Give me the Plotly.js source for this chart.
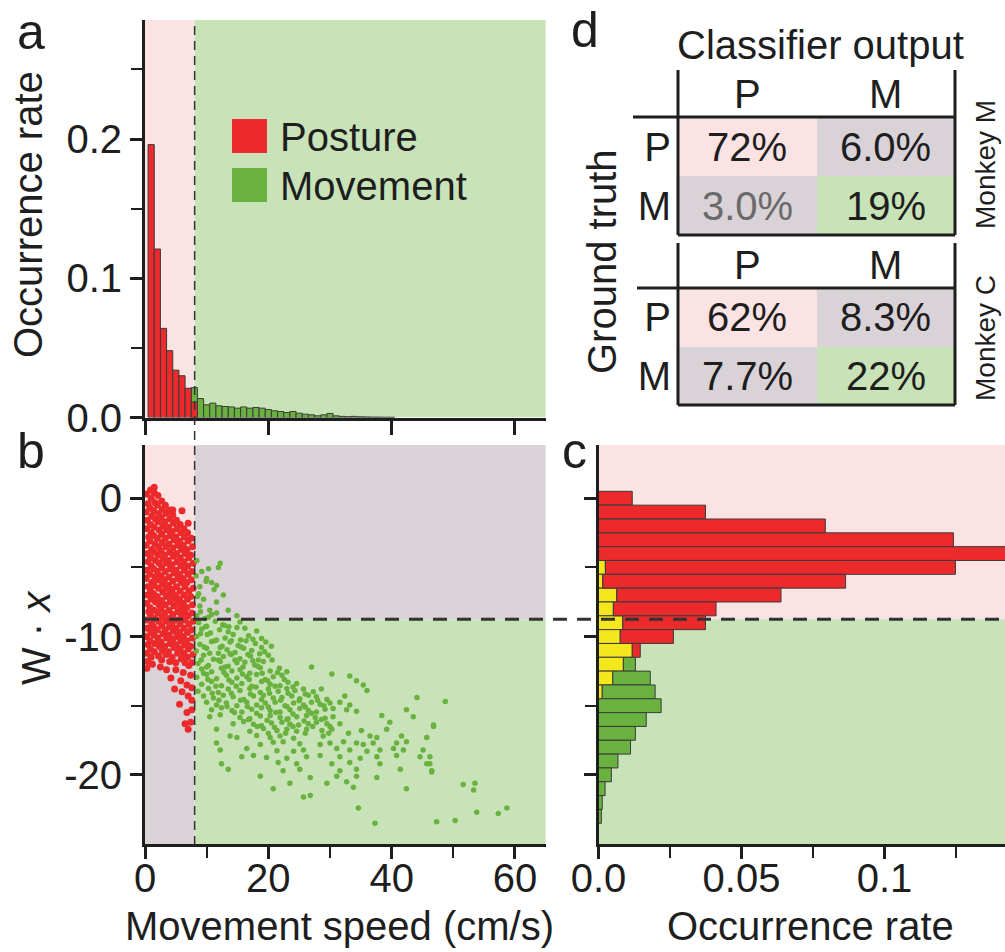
<!DOCTYPE html>
<html>
<head>
<meta charset="utf-8">
<script src="https://cdn.plot.ly/plotly-3.0.1.min.js"></script>
<style>html,body{margin:0;padding:0;background:#fff;}#chart{width:1005px;height:952px;}</style>
</head>
<body>
<div id="chart"></div>
<script>
// ---------------- DATA ----------------
// Panel a: occurrence rate histograms of movement speed (cm/s), bin width 1
const aPostureBins = [1, 2, 3, 4, 5, 6, 7, 8];
const aPostureRate = [0.196, 0.121, 0.064, 0.048, 0.034, 0.030, 0.021, 0.011];
const aMoveBins = [8, 9, 10, 11, 12, 13, 14, 15, 16, 17, 18, 19, 20, 21, 22, 23, 24, 25, 26, 27, 28, 29, 30, 31, 32, 33, 34, 35, 36, 37, 38, 39, 40];
const aMoveRate = [0.0215, 0.0136, 0.0091, 0.0103, 0.0084, 0.0079, 0.0076, 0.0067, 0.0076, 0.0067, 0.0072, 0.0067, 0.0057, 0.0048, 0.0043, 0.0036, 0.0043, 0.0031, 0.0024, 0.0019, 0.0012, 0.0019, 0.0029, 0.0012, 0.0008, 0.0006, 0.0008, 0.0005, 0.0004, 0.0003, 0.0003, 0.0002, 0.0002];

// Panel b: scatter of W·x against movement speed
const postureSpeed = [
 0.3,0.5,0.2,0.4,0.3,0.6,0.2,0.4,0.5,0.3,0.2,0.5,0.4,0.3,0.6,0.2,0.4,0.3,0.5,0.3,0.4,
 0.9,1.0,0.8,1.1,0.9,1.0,0.8,1.1,0.9,1.0,0.8,1.1,0.9,1.0,0.8,0.9,1.1,1.0,0.8,0.9,1.0,
 1.5,1.6,1.4,1.7,1.5,1.4,1.6,1.5,1.7,1.4,1.6,1.5,1.4,1.7,1.5,1.6,1.4,1.5,1.6,1.5,
 2.1,2.0,2.2,2.1,2.3,2.0,2.2,2.1,2.3,2.0,2.1,2.2,2.0,2.3,2.1,2.2,2.0,2.1,2.3,2.2,
 2.7,2.8,2.6,2.9,2.7,2.8,2.6,2.9,2.7,2.6,2.8,2.9,2.7,2.6,2.8,2.7,2.9,2.6,2.8,2.7,
 3.3,3.4,3.2,3.5,3.3,3.4,3.2,3.5,3.3,3.2,3.4,3.5,3.3,3.2,3.4,3.3,3.5,3.2,3.4,
 3.9,4.0,3.8,4.1,3.9,4.0,3.8,4.1,3.9,3.8,4.0,4.1,3.9,3.8,4.0,3.9,4.1,3.8,4.0,
 4.5,4.6,4.4,4.7,4.5,4.6,4.4,4.7,4.5,4.4,4.6,4.7,4.5,4.4,4.6,4.5,4.7,4.4,
 5.1,5.2,5.0,5.3,5.1,5.2,5.0,5.3,5.1,5.0,5.2,5.3,5.1,5.0,5.2,5.1,5.3,5.0,
 5.7,5.8,5.6,5.9,5.7,5.8,5.6,5.9,5.7,5.6,5.8,5.9,5.7,5.6,5.8,5.7,5.9,
 6.3,6.4,6.2,6.5,6.3,6.4,6.2,6.5,6.3,6.2,6.4,6.5,6.3,6.2,6.4,6.3,6.5,
 6.9,7.0,6.8,7.1,6.9,7.0,6.8,7.1,6.9,6.8,7.0,7.1,6.9,6.8,7.0,6.9,7.1,
 7.5,7.7,7.4,7.8,7.6,7.5,7.8,7.4,7.7,7.6,7.8,7.5,7.7,7.4,7.8,7.6,
 4.1,4.5,6.0,1.5,7.0,2.5,3.5,5.0,6.2,7.4,4.2,5.8,6.8,7.6,4.8,6.0,7.0,5.6,7.6,6.8,7.6,6.5,7.4,7.0,0.3,1.2
];
const postureW = [
 0.3,-0.4,-1.0,-1.6,-2.2,-2.8,-3.4,-4.0,-4.6,-5.2,-5.8,-6.4,-7.0,-7.6,-8.2,-8.8,-9.4,-10.0,-10.6,-11.2,-11.8,
 0.6,0.0,-0.7,-1.3,-1.9,-2.5,-3.1,-3.7,-4.3,-4.9,-5.5,-6.1,-6.7,-7.3,-7.9,-8.5,-9.1,-9.7,-10.3,-10.9,-11.5,
 0.4,-0.3,-0.9,-1.5,-2.1,-2.7,-3.3,-3.9,-4.5,-5.1,-5.7,-6.3,-6.9,-7.5,-8.1,-8.7,-9.3,-9.9,-10.5,-11.1,
 0.2,-0.5,-1.1,-1.7,-2.3,-2.9,-3.5,-4.1,-4.7,-5.3,-5.9,-6.5,-7.1,-7.7,-8.3,-8.9,-9.5,-10.1,-10.7,-11.4,
 -0.2,-0.8,-1.4,-2.0,-2.6,-3.2,-3.8,-4.4,-5.0,-5.6,-6.2,-6.8,-7.4,-8.0,-8.6,-9.2,-9.8,-10.4,-11.0,-11.7,
 -0.5,-1.1,-1.7,-2.3,-2.9,-3.5,-4.1,-4.7,-5.3,-5.9,-6.5,-7.1,-7.7,-8.3,-8.9,-9.5,-10.1,-10.7,-11.3,
 -0.9,-1.5,-2.1,-2.7,-3.3,-3.9,-4.5,-5.1,-5.7,-6.3,-6.9,-7.5,-8.1,-8.7,-9.3,-9.9,-10.5,-11.1,-11.8,
 -1.2,-1.8,-2.4,-3.0,-3.6,-4.2,-4.8,-5.4,-6.0,-6.6,-7.2,-7.8,-8.4,-9.0,-9.6,-10.2,-10.8,-11.5,
 -1.6,-2.2,-2.8,-3.4,-4.0,-4.6,-5.2,-5.8,-6.4,-7.0,-7.6,-8.2,-8.8,-9.4,-10.0,-10.6,-11.2,-11.9,
 -1.9,-2.5,-3.1,-3.7,-4.3,-4.9,-5.5,-6.1,-6.7,-7.3,-7.9,-8.5,-9.1,-9.7,-10.3,-10.9,-11.6,
 -2.2,-2.8,-3.4,-4.0,-4.6,-5.2,-5.8,-6.4,-7.0,-7.6,-8.2,-8.8,-9.4,-10.0,-10.6,-11.2,-11.9,
 -2.5,-3.1,-3.7,-4.3,-4.9,-5.5,-6.1,-6.7,-7.3,-7.9,-8.5,-9.1,-9.7,-10.3,-10.9,-11.5,-12.1,
 -2.9,-3.5,-4.1,-4.7,-5.3,-5.9,-6.5,-7.1,-7.7,-8.3,-8.9,-9.5,-10.1,-10.7,-11.3,-11.9,
 -0.85,-0.85,-0.9,0.8,-1.8,-12.2,-12.4,-12.4,-12.6,-12.8,-13.0,-13.2,-13.5,-13.7,-13.8,-14.0,-14.3,-14.9,-14.6,-15.5,-15.3,-16.3,-16.2,-16.7,-12.3,-12.0
];
const moveSpeed = [
 8.4,10.3,11.9,8.9,10.8,9.5,11.6,12.7,8.9,10.3,8.7,10.0,11.6,10.5,11.6,13.5,14.9,8.4,9.7,9.2,9.9,8.5,10.8,9.0,11.2,8.3,12.2,
 8.7,10.0,11.4,12.6,13.6,15.4,
 9.2,10.6,12.1,13.5,14.9,18.1,
 8.4,10.1,11.6,13.0,14.3,15.5,16.8,18.9,
 8.9,10.8,12.5,13.8,15.1,16.4,17.9,20.5,
 8.3,10.0,11.9,13.3,14.6,16.0,17.3,18.6,
 9.5,11.1,12.7,14.0,15.4,17.1,18.4,20.0,
 8.6,10.3,12.2,13.5,14.9,16.2,17.8,19.2,
 9.2,10.8,12.4,14.1,15.4,17.0,18.7,20.3,23.0,27.0,
 8.4,10.0,11.6,13.2,14.9,16.5,18.1,19.5,20.8,22.2,30.3,33.2,
 9.2,10.8,12.4,14.1,15.7,17.3,18.9,20.3,21.9,23.2,24.6,34.3,35.4,
 8.6,10.3,11.9,13.5,15.4,17.0,18.7,20.0,21.6,23.0,24.3,25.7,27.3,28.6,36.0,
 9.5,11.1,12.7,14.3,16.0,17.6,19.2,20.8,22.2,23.8,25.1,26.5,27.8,29.5,32.4,44.1,
 10.0,11.6,13.2,14.9,16.5,18.1,19.5,21.1,22.7,24.1,25.7,27.0,28.4,30.0,31.6,33.2,
 10.8,12.4,14.1,15.7,17.3,18.9,20.3,21.9,23.5,25.1,26.5,27.8,29.2,30.5,32.7,34.3,42.4,
 10.5,12.2,15.4,17.0,18.7,20.3,21.9,23.2,24.6,26.2,27.6,29.2,30.5,38.4,43.5,
 14.3,16.0,17.6,18.9,20.5,22.2,23.5,24.9,26.5,27.8,29.5,31.6,39.7,46.8,
 11.6,17.0,19.2,21.4,23.0,24.6,26.2,28.7,30.3,35.1,39.2,
 13.8,14.9,18.1,20.3,21.9,24.1,28.9,36.5,37.6,41.6,45.7,
 11.6,18.7,20.8,22.4,25.1,28.4,30.0,32.2,34.3,35.4,37.0,40.8,42.4,
 12.2,16.5,21.4,24.1,25.7,31.1,33.2,36.0,38.1,40.3,41.9,45.1,
 15.7,17.6,19.7,23.0,26.2,28.4,31.6,34.9,37.6,40.8,44.6,46.2,
 12.4,21.6,24.6,30.3,33.2,38.1,45.7,
 13.5,22.4,25.1,31.6,34.3,41.4,46.5,
 18.7,26.8,31.1,34.3,37.6,
 23.5,29.5,32.7,
 20.8,33.8,42.4,
 25.7,26.8,
 34.6,
 37.3,47.3,
 46.8,48.7,46.2,46.5,51.6,53.3,53.5,53.8,50.3,57.3,58.7,65.4,
 9.8,12.9,16.2,9.0,11.3,14.0,17.5,19.6,9.6,12.2,15.6,18.9,10.5,13.8,16.7,19.4,9.1,11.9,14.6,17.5,
 20.6,10.0,13.0,15.9,18.3,21.8,9.5,12.8,15.8,19.0,21.5,10.2,13.6,16.9,19.9,22.6,11.5,14.8,18.0,21.1,
 24.0,10.9,14.0,17.1,20.2,23.2,26.0,12.0,15.5,18.9,22.0,25.0,28.0,13.3,16.6,20.0,23.0,26.0,29.0,14.5,
 18.1,21.2,24.0,27.0,16.8,19.8,23.0,25.8,28.6,18.2,21.0,24.0,27.2,30.0,20.0,22.8,26.0,29.8,33.0
];
const moveW = [
 -4.5,-5.1,-5.0,-6.4,-6.1,-7.3,-7.5,-7.0,-7.8,-8.6,-6.9,-5.8,-8.3,-8.1,-6.3,-8.1,-8.5,-8.5,-8.7,-5.3,-6.0,-7.1,-8.4,-8.2,-6.6,-5.6,-4.7,
 -9.0,-9.25,-8.9,-9.15,-9.3,-8.95,
 -9.45,-9.75,-9.5,-9.65,-9.35,-9.6,
 -10.0,-9.85,-10.25,-10.1,-9.85,-10.25,-9.95,-10.15,
 -10.55,-10.35,-10.7,-10.4,-10.65,-10.3,-10.5,-10.7,
 -11.05,-10.85,-11.2,-10.95,-11.15,-10.85,-11.0,-11.25,
 -11.35,-11.65,-11.45,-11.3,-11.6,-11.4,-11.7,-11.35,
 -11.95,-12.1,-11.8,-12.15,-11.9,-11.85,-12.05,-11.8,
 -12.35,-12.55,-12.3,-12.5,-12.4,-12.65,-12.25,-12.5,-12.55,-12.2,
 -12.95,-12.75,-13.05,-12.8,-13.0,-12.9,-12.75,-13.1,-12.9,-12.8,-12.7,-12.85,
 -13.45,-13.25,-13.55,-13.3,-13.4,-13.6,-13.25,-13.45,-13.55,-13.3,-13.4,-13.2,-13.5,
 -13.95,-13.75,-14.05,-13.8,-13.9,-13.75,-14.05,-13.8,-13.95,-13.75,-13.9,-13.8,-14.0,-13.8,-13.9,
 -14.3,-14.45,-14.25,-14.35,-14.55,-14.3,-14.25,-14.45,-14.4,-14.3,-14.5,-14.25,-14.35,-14.55,-14.3,-14.4,
 -14.75,-14.95,-14.8,-15.0,-14.75,-14.95,-14.8,-14.75,-15.0,-14.8,-14.95,-14.75,-14.9,-14.8,-14.75,-14.95,
 -15.3,-15.15,-15.35,-15.45,-15.25,-15.15,-15.35,-15.45,-15.3,-15.2,-15.35,-15.45,-15.25,-15.2,-15.3,-15.4,-15.3,
 -15.8,-15.65,-15.85,-15.95,-15.75,-15.7,-15.85,-15.95,-15.8,-15.7,-15.85,-15.9,-15.8,-15.7,-15.8,
 -16.3,-16.15,-16.35,-16.45,-16.25,-16.2,-16.35,-16.4,-16.3,-16.2,-16.3,-16.3,-16.2,-16.4,
 -16.7,-16.85,-16.65,-16.8,-16.7,-16.85,-16.7,-16.8,-16.7,-16.8,-16.7,
 -17.2,-17.3,-17.15,-17.3,-17.2,-17.35,-17.2,-17.2,-17.3,-17.2,-17.3,
 -17.7,-17.8,-17.65,-17.6,-17.75,-17.8,-17.7,-17.6,-17.7,-17.8,-17.7,-17.7,-17.6,
 -18.2,-18.1,-18.25,-18.3,-18.2,-18.1,-18.2,-18.3,-18.2,-18.1,-18.2,-18.2,
 -18.7,-18.6,-18.75,-18.8,-18.7,-18.6,-18.7,-18.8,-18.7,-18.6,-18.7,-18.7,
 -19.2,-19.1,-19.2,-19.2,-19.1,-19.2,-19.2,
 -19.6,-19.7,-19.6,-19.7,-19.6,-19.6,-19.7,
 -20.1,-20.2,-20.1,-20.1,-20.2,
 -20.6,-20.6,-20.5,
 -21.0,-20.9,-21.0,
 -21.6,-21.5,
 -22.4,
 -23.5,-23.4,
 -16.5,-14.7,-19.2,-19.8,-20.7,-21.1,-20.6,-22.7,-23.3,-22.8,-22.4,-24.1,
 -9.3,-9.2,-9.4,-9.8,-10.3,-10.3,-10.2,-10.4,-10.75,-10.8,-10.75,-10.8,-11.2,-11.25,-11.3,-11.1,-11.7,-11.7,-11.7,-11.75,
 -11.7,-12.2,-12.2,-12.2,-12.15,-12.3,-12.65,-12.6,-12.7,-12.65,-12.6,-13.1,-13.15,-13.1,-13.2,-13.1,-13.6,-13.6,-13.65,-13.6,
 -13.65,-14.1,-14.1,-14.15,-14.1,-14.1,-14.15,-14.6,-14.6,-14.55,-14.6,-14.65,-14.6,-15.05,-15.05,-15.1,-15.05,-15.1,-15.0,-15.5,
 -15.55,-15.5,-15.6,-15.55,-16.0,-16.05,-16.0,-16.1,-16.0,-16.5,-16.55,-16.5,-16.5,-16.5,-17.0,-17.0,-17.0,-17.0,-17.0
];

// Panel c: occurrence rate of W·x (bin width 1)
const cPostureBins = [0, -1, -2, -3, -4, -5, -6, -7, -8, -9, -10, -11];
const cPostureRate = [0.0118, 0.0374, 0.0793, 0.1241, 0.148, 0.1248, 0.0864, 0.0638, 0.0411, 0.0374, 0.0262, 0.0146];
const cMoveBins = [-12, -13, -14, -15, -16, -17, -18, -19, -20, -21, -22, -23];
const cMoveRate = [0.0129, 0.0181, 0.0198, 0.0219, 0.0167, 0.0129, 0.0112, 0.0068, 0.0045, 0.0023, 0.0013, 0.0010];
const cYellowBins = [-5, -6, -7, -8, -9, -10, -11, -12, -13, -14];
const cYellowRate = [0.0024, 0.0015, 0.0064, 0.0052, 0.0085, 0.0076, 0.0118, 0.0087, 0.0050, 0.0013];

// Panel d: confusion matrices (rows: ground truth P/M, cols: classifier output P/M), in %
const classLabels = ['P', 'M'];
const monkeyM = [[72, 6.0], [3.0, 19]];
const monkeyC = [[62, 8.3], [7.7, 22]];

const speedThreshold = 8.05;
const wThreshold = -8.75;

// ---------------- STYLE ----------------
const FONT = 'Liberation Sans, Arial, Helvetica, sans-serif';
const INK = '#1e1e1e';
const RED = '#ec2a2c', GREEN = '#6ab23f', YELLOW = '#f4e81c';
const BG_PINK = '#fbe3e3', BG_GREEN = '#c9e3b9', BG_GREY = '#d9d2d7';
const EDGE = '#3a3a3a';

function yellowAt(b) { const i = cYellowBins.indexOf(b); return i >= 0 ? cYellowRate[i] : 0; }

const traces = [];
// panel a
traces.push({type: 'bar', xaxis: 'x', yaxis: 'y', name: 'Movement', x: aMoveBins, y: aMoveRate, width: 1,
  marker: {color: GREEN, line: {color: EDGE, width: 1}}, hoverinfo: 'skip'});
traces.push({type: 'bar', xaxis: 'x', yaxis: 'y', name: 'Posture', x: aPostureBins, y: aPostureRate, width: 1,
  marker: {color: RED, line: {color: EDGE, width: 1}}, hoverinfo: 'skip'});
// panel b
traces.push({type: 'scatter', mode: 'markers', xaxis: 'x2', yaxis: 'y2', name: 'Posture', x: postureSpeed, y: postureW,
  marker: {color: RED, size: 7, line: {width: 0}}, hoverinfo: 'skip'});
traces.push({type: 'scatter', mode: 'markers', xaxis: 'x2', yaxis: 'y2', name: 'Movement', x: moveSpeed, y: moveW,
  marker: {color: GREEN, size: 5.5, line: {width: 0}}, cliponaxis: false, hoverinfo: 'skip'});
// panel c
traces.push({type: 'bar', orientation: 'h', xaxis: 'x3', yaxis: 'y3', name: 'Other', y: cYellowBins, x: cYellowRate, width: 1,
  marker: {color: YELLOW, line: {color: EDGE, width: 1}}, hoverinfo: 'skip'});
traces.push({type: 'bar', orientation: 'h', xaxis: 'x3', yaxis: 'y3', name: 'Posture', y: cPostureBins,
  base: cPostureBins.map(yellowAt), x: cPostureRate.map((v, i) => v - yellowAt(cPostureBins[i])), width: 1,
  marker: {color: RED, line: {color: EDGE, width: 1}}, hoverinfo: 'skip'});
traces.push({type: 'bar', orientation: 'h', xaxis: 'x3', yaxis: 'y3', name: 'Movement', y: cMoveBins,
  base: cMoveBins.map(yellowAt), x: cMoveRate.map((v, i) => v - yellowAt(cMoveBins[i])), width: 1,
  marker: {color: GREEN, line: {color: EDGE, width: 1}}, hoverinfo: 'skip'});
// panel d heatmaps
function cellClass(i, j) { return i === j ? (i === 0 ? 0 : 2) : 1; }
const zCells = classLabels.map((r, i) => classLabels.map((c, j) => cellClass(i, j)));
const cellScale = [[0, BG_PINK], [0.5, BG_GREY], [1, BG_GREEN]];
traces.push({type: 'heatmap', xaxis: 'x4', yaxis: 'y4', z: zCells, x: [0, 1], y: [0, 1], zmin: 0, zmax: 2,
  colorscale: cellScale, showscale: false, hoverinfo: 'skip', xgap: 0, ygap: 0});
traces.push({type: 'heatmap', xaxis: 'x5', yaxis: 'y5', z: zCells, x: [0, 1], y: [0, 1], zmin: 0, zmax: 2,
  colorscale: cellScale, showscale: false, hoverinfo: 'skip', xgap: 0, ygap: 0});

// ---------------- LAYOUT ----------------
const W = 1005, H = 952;
const px = v => v / W, py = v => 1 - v / H;

const baseAxis = {showline: true, linewidth: 3, linecolor: INK, ticks: 'outside', ticklen: 12, tickwidth: 3,
  tickcolor: INK, showgrid: false, zeroline: false, tickmode: 'array', fixedrange: true,
  tickfont: {family: FONT, size: 40, color: INK}};
const minor = vals => ({tickmode: 'array', tickvals: vals, ticks: 'outside', ticklen: 11, tickwidth: 2, tickcolor: INK, showgrid: false});

const xDomAB = [px(145), px(545.8)];
const yDomA = [py(417.5), py(20)];
const yDomB = [py(844), py(445)];
const xDomC = [px(598.5), 1];

const tableAxisX = {showline: false, showgrid: false, zeroline: false, ticks: '', range: [-0.5, 1.5], tickmode: 'array',
  tickvals: [0, 1], ticktext: classLabels, side: 'top', fixedrange: true, tickfont: {family: FONT, size: 40, color: INK}};
const tableAxisY = {showline: false, showgrid: false, zeroline: false, ticks: '', range: [1.5, -0.5], tickmode: 'array',
  tickvals: [0, 1], ticktext: classLabels, fixedrange: true, tickfont: {family: FONT, size: 40, color: INK}, ticklabelstandoff: 6};

const layout = {
  width: W, height: H, margin: {l: 0, r: 0, t: 0, b: 0},
  paper_bgcolor: '#ffffff', plot_bgcolor: 'rgba(0,0,0,0)', showlegend: false,
  barmode: 'overlay', bargap: 0,
  font: {family: FONT, size: 40, color: INK},
  xaxis: Object.assign({}, baseAxis, {domain: xDomAB, range: [0, 65], anchor: 'y', tickvals: [0, 20, 40, 60],
    showticklabels: false, ticklen: 14}),
  yaxis: Object.assign({}, baseAxis, {domain: yDomA, range: [0, 0.2855], anchor: 'x', tickvals: [0, 0.1, 0.2],
    ticktext: ['0.0', '0.1', '0.2'], minor: minor([0.05, 0.15, 0.25])}),
  xaxis2: Object.assign({}, baseAxis, {domain: xDomAB, range: [0, 65], anchor: 'y2', tickvals: [0, 20, 40, 60],
    ticktext: ['0', '20', '40', '60'], minor: minor([10, 30, 50]), ticklabelstandoff: -15}),
  yaxis2: Object.assign({}, baseAxis, {domain: yDomB, range: [-25, 3.85], anchor: 'x2', tickvals: [-20, -10, 0],
    ticktext: ['-20', '-10', '0'], minor: minor([-15, -5])}),
  xaxis3: Object.assign({}, baseAxis, {domain: xDomC, range: [0, 0.14213], anchor: 'y3', tickvals: [0, 0.05, 0.1],
    ticktext: ['0.0', '0.05', '0.1'], minor: minor([0.025, 0.075, 0.125]), ticklabelstandoff: -15}),
  yaxis3: Object.assign({}, baseAxis, {domain: yDomB, range: [-25, 3.85], anchor: 'x3', tickvals: [-20, -10, 0],
    showticklabels: false, minor: minor([-15, -5])}),
  xaxis4: Object.assign({}, tableAxisX, {domain: [px(678), px(955)], anchor: 'y4'}),
  yaxis4: Object.assign({}, tableAxisY, {domain: [py(235), py(117)], anchor: 'x4'}),
  xaxis5: Object.assign({}, tableAxisX, {domain: [px(678), px(955)], anchor: 'y5'}),
  yaxis5: Object.assign({}, tableAxisY, {domain: [py(405), py(288)], anchor: 'x5'}),
  shapes: [], annotations: []
};

const S = layout.shapes, A = layout.annotations;
function rect(xref, yref, x0, x1, y0, y1, color) {
  S.push({type: 'rect', xref, yref, x0, x1, y0, y1, fillcolor: color, line: {width: 0}, layer: 'below'});
}
// panel a background
rect('x', 'y', 0, speedThreshold, 0, 0.2855, BG_PINK);
rect('x', 'y', speedThreshold, 65, 0, 0.2855, BG_GREEN);
// panel b background
rect('x2', 'y2', 0, speedThreshold, wThreshold, 3.85, BG_PINK);
rect('x2', 'y2', speedThreshold, 65, wThreshold, 3.85, BG_GREY);
rect('x2', 'y2', 0, speedThreshold, -25, wThreshold, BG_GREY);
rect('x2', 'y2', speedThreshold, 65, -25, wThreshold, BG_GREEN);
// panel c background
rect('x3', 'y3', 0, 0.14213, wThreshold, 3.85, BG_PINK);
rect('x3', 'y3', 0, 0.14213, -25, wThreshold, BG_GREEN);
// threshold lines
S.push({type: 'line', xref: 'x', yref: 'paper', x0: speedThreshold, x1: speedThreshold, y0: py(845), y1: py(20),
  line: {color: '#333', width: 1.5, dash: '9px,6px'}, layer: 'above'});
S.push({type: 'line', xref: 'paper', yref: 'y2', x0: px(145), x1: 1, y0: wThreshold, y1: wThreshold,
  line: {color: '#333', width: 3, dash: '14px,10px'}, layer: 'above'});
// table borders
function hline(x0, x1, y) { S.push({type: 'line', xref: 'paper', yref: 'paper', x0: px(x0), x1: px(x1), y0: py(y), y1: py(y), line: {color: INK, width: 3}}); }
function vline(x, y0, y1) { S.push({type: 'line', xref: 'paper', yref: 'paper', x0: px(x), x1: px(x), y0: py(y0), y1: py(y1), line: {color: INK, width: 3}}); }
vline(678, 70, 235); vline(955, 70, 235); hline(633, 955, 117); hline(678, 955, 235);
vline(678, 243, 405); vline(955, 243, 405); hline(637, 955, 288); hline(678, 955, 405);

// legend swatches (panel a)
S.push({type: 'rect', xref: 'paper', yref: 'paper', x0: px(232), x1: px(267), y0: py(153), y1: py(119), fillcolor: RED, line: {width: 0}});
S.push({type: 'rect', xref: 'paper', yref: 'paper', x0: px(232), x1: px(267), y0: py(202), y1: py(168), fillcolor: GREEN, line: {width: 0}});

function note(text, x, y, opts) {
  A.push(Object.assign({text, x: px(x), y: py(y), xref: 'paper', yref: 'paper', showarrow: false,
    xanchor: 'center', yanchor: 'middle', font: {family: FONT, size: 40, color: INK}}, opts || {}));
}
note('Posture', 278, 137, {xanchor: 'left'});
note('Movement', 278, 186, {xanchor: 'left'});
// axis titles
note('Occurrence rate', 28, 215, {textangle: -90});
note('W · <i>x</i>', 36, 638, {textangle: -90});
note('Movement speed (cm/s)', 339, 926);
note('Occurrence rate', 810, 926);
// panel letters
note('a', 31, 32, {font: {family: FONT, size: 50, color: INK}});
note('b', 31, 451, {font: {family: FONT, size: 50, color: INK}});
note('c', 574, 451, {font: {family: FONT, size: 50, color: INK}});
note('d', 585, 30, {font: {family: FONT, size: 50, color: INK}});
// table titles
note('Classifier output', 820, 45);
note('Ground truth', 602, 262, {textangle: -90});
note('Monkey M', 985, 165, {textangle: -90, font: {family: FONT, size: 28, color: INK}});
note('Monkey C', 985, 338, {textangle: -90, font: {family: FONT, size: 28, color: INK}});

// table cell values
function fmt(v) { return (v >= 10 ? v.toFixed(0) : v.toFixed(1)) + '%'; }
function cellText(mat, xr, yr, greyOff) {
  mat.forEach((row, i) => row.forEach((v, j) => {
    A.push({text: fmt(v), x: j, y: i, xref: xr, yref: yr, showarrow: false, xanchor: 'center', yanchor: 'middle',
      font: {family: FONT, size: 40, color: (greyOff && i === 1 && j === 0) ? '#6a6a6a' : INK}});
  }));
}
cellText(monkeyM, 'x4', 'y4', true);
cellText(monkeyC, 'x5', 'y5', false);

Plotly.newPlot('chart', traces, layout, {staticPlot: true, displayModeBar: false});
</script>
</body>
</html>
